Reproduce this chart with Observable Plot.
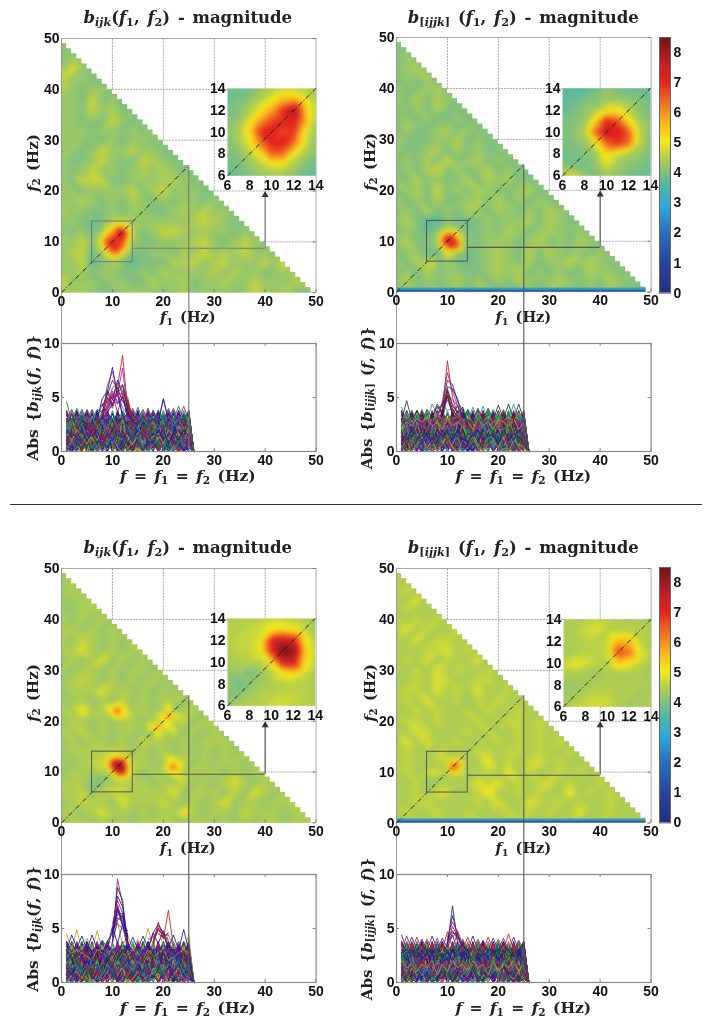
<!DOCTYPE html>
<html><head><meta charset="utf-8">
<style>
html,body{margin:0;padding:0;background:#fff;overflow:hidden}
#page{position:relative;width:710px;height:1024px;overflow:hidden;filter:blur(.35px)}
#page svg{position:absolute;display:block;overflow:visible}
.lbl{position:absolute;white-space:nowrap;font-family:"DejaVu Serif","Liberation Serif",serif;font-weight:bold;color:#222;line-height:1;word-spacing:2px}
.lbl sub{font-size:.68em;line-height:0;vertical-align:-.28em}
.lbl i{font-style:italic}
</style>
<script src="https://cdn.jsdelivr.net/npm/d3@7"></script>
<script src="https://cdn.jsdelivr.net/npm/@observablehq/plot@0.6"></script>
</head><body><div id="page"></div>
<script>
// colour scale
const cbStops=[0,1,2,2.8,3.5,4,4.5,5,5.6,6,7,7.6,8.5];
const cbColors=["#23307f","#27479f","#2b6fbd","#2ba8df","#4fb8a5","#84c17c","#b8d04a","#f5ea1c","#f9b81f","#f58e20","#e4231f","#c11f26","#6e1416"];
const xTicks=[0,10,20,30,40,50], insetTicks=[6,8,10,12,14], absTicks=[0,5,10], cbTicks=[0,1,2,3,4,5,6,7,8];
const gridAt=[10,20,30,40];
// 2 Hz background grids, top row f2=50 to bottom row f2=0; digit d means 3.6+0.2d
const gridTL=["2","23","233","3632","53322","432332","3325232","33253422","332325322","3332332323","33322323322","332353353322","3223532254322","32353323434322","325552233344322","3323333524533322","33432324323233232","433223233223435332","3323322333333454322","32333322235543433233","335333322233345323532","34533322233243534353322","335333322224453453335362","334233223243333434332334","533323322433423343353334","3343223343234233323543422"];
const gridTR=["2","22","232","2342","23242","322342","3242432","22324222","232322322","2422342322","42223342322","322342423223","2324252342322","23245232342322","324232242434222","2342523243223422","32324223424232322","232423243243232432","3423322323233424322","23232333232432343232","342323322333234232432","23323332234324243232322","324232322343242335343232","232423322343423232243322","342323424232432343232432","3232323223232323232323232"];
const gridBL=["3","34","343","4344","33444","434343","4434344","43543434","446434344","3434634343","43443434434","345434343434","3444644343434","43434353434434","447443344343443","3443434434545344","44534344344634343","343443435443434443","3443434343434343434","43444344434453434434","34443444344344443434","44434434434353434643443","445344344446344435364344","345443644454343463443445","443464434344743443544434","344343434454344343434434"];
const gridBR=["4","44","454","4464","45444","445454","4645445","44645544","444556454","4546454463","44546454454","445465445544","4554645464454","45464453545445","445454454544544","4554544454455454","44654445454454544","464644544454545454","4544544555455454454","45454445474545645444","454444544547454454544","44545444656454564544544","445454445744545447454544","445544445464465454544544","454454454445454544644544","4444544454445444544454445"];
// inset grids at 1 Hz, f2=14 down to f2=6, f1=6..14
const insetTL=[[3.9,3.8,3.9,4.2,4.4,4.5,4.6,4.5,4.2],[3.8,3.9,4.1,4.5,4.9,5.6,5.7,5.0,4.4],[3.9,4.0,4.4,5.0,5.8,6.9,7.9,5.6,4.5],[4.0,4.2,4.9,5.9,6.7,7.0,7.2,5.8,4.4],[4.1,4.4,5.2,6.9,7.1,6.7,6.8,5.0,4.2],[4.0,4.3,4.9,6.2,7.0,7.1,6.3,4.8,4.1],[3.9,4.1,4.5,5.1,6.4,6.3,5.0,4.4,4.0],[3.8,3.9,4.2,4.5,4.9,4.8,4.4,4.0,3.8],[3.7,3.9,4.0,4.2,4.3,4.3,4.1,3.8,3.7]];
const insetTR=[[3.7,3.6,3.6,3.8,4.2,3.9,3.8,3.8,3.8],[3.6,3.7,3.9,4.0,4.2,4.2,4.1,4.0,3.8],[3.7,3.9,4.1,4.4,5.0,5.1,4.5,4.1,3.9],[3.9,4.0,4.2,5.4,7.0,6.6,5.2,4.4,4.0],[4.0,4.1,4.5,6.4,7.5,7.2,6.5,4.6,4.0],[3.9,4.0,4.2,4.9,6.4,6.9,6.4,4.6,4.0],[3.8,3.9,4.0,4.3,5.2,4.7,4.4,4.2,3.9],[4.0,3.9,3.9,4.1,4.8,4.3,4.1,4.0,3.8],[4.3,4.8,4.2,4.0,4.3,4.1,3.9,3.8,3.8]];
const insetBL=[[4.4,4.4,4.5,4.5,4.6,4.6,4.5,4.4,4.3],[4.5,4.5,4.6,4.7,5.0,5.2,5.0,4.6,4.4],[4.5,4.6,4.6,4.9,7.0,7.6,7.2,5.2,4.5],[4.4,4.6,4.6,4.9,7.0,8.4,8.2,5.6,4.6],[4.3,4.4,4.5,4.5,5.0,7.2,7.4,5.3,4.5],[4.2,4.2,3.9,4.2,4.5,5.0,5.2,4.7,4.4],[4.2,3.8,4.1,4.3,4.4,4.5,4.5,4.5,4.4],[3.9,4.1,4.3,4.5,4.5,4.6,4.6,4.5,4.4],[4.2,4.4,4.5,4.5,4.7,4.7,4.6,4.5,4.4]];
const insetBR=[[4.4,4.4,4.5,4.6,4.5,4.4,4.4,4.4,4.3],[4.4,4.4,4.7,4.8,4.5,4.5,4.5,4.5,4.4],[4.4,4.4,4.5,4.5,4.6,5.6,5.6,4.6,4.4],[4.3,4.4,4.5,4.5,4.6,6.7,6.3,4.9,4.4],[4.6,4.9,4.8,4.5,4.5,5.4,5.0,4.6,4.4],[4.4,4.4,4.3,4.3,4.4,4.4,4.4,4.4,4.3],[4.2,4.2,4.3,4.4,4.4,4.4,4.4,4.4,4.4],[4.2,4.3,4.5,4.6,4.6,4.4,4.4,4.3,4.4],[4.3,4.6,4.7,4.8,4.7,4.4,4.3,4.4,4.4]];
// extra off-diagonal peaks of the lower-left map: [f1,f2,value]
const spotsBL=[[11,22,6.9],[10,22,5.3],[12,22,5.2],[11,23,5.4],[11,21,5.4],[22,11,6.8],[21,11,5.4],[23,11,5.3],[22,12,5.3],[22,10,5.2],[19,19,6.1],[18,19,5.3],[20,19,4.9],[19,18,5.2],[21,21,6.3],[20,21,5.2],[22,21,5.0],[21,22,5.3],[21,20,5.0]];
const bandLevels=[{y1:0,y2:.45,v:1.5},{y1:.45,y2:.8,v:2.6}];
// diagonal traces, f=1..25 at 0.34 per digit
const massRows=["9193819281937291829371928","1829172918391729183927193","7261827381726381927361827","2736172819372618273918262","5847362918475639284756392","3948572639485726394857263","0612740516273041625374061","6051627304162530417263051","4152637485960415263748596","8372615049382716059483726","2948103756291840375629184","7150394826715039482671503","1306284759130628475913062","6927183054692718305469271","3581749260358174926035817","8246031975824603197582460","0739518264073951826407395","5164972038516497203851649","9482063715948206371594820","2073849516207384951620738","4916205837491620583749162","1728394051728394051728394","6302917485630291748563029","3175804926317580492631758","0425163728041526372804152","2610473592261047359226104","5039182746503918274650391","7384620195738462019573846","1593708264159370826415937","4862015379486201537948620","0214365870213546870214365","3021546780312456078130245","1032547698103254769810325","2143056789214305678921430","0132435465012345432102345","1203142536405162738405162",
"2907415368192047538160927","8140926357701948263580419","3659017428895103276641098","7018364295013872946510837","1496280735962041873952604","5823194076328910574186392","0374851926740528391607483","9260437185209364718025946","4718092653187206945381027","6593710284965018327490516","2085963147830296514703869","7431208956142879305612784","3926570418697213058947120","1860347295206749381526073","8097125463918450672394815","5241869037452168093705246","0619283754081936275418390","9375046182703591426083571","6182739405617284950371628","3407951628340895162794013","1754062893517026948315702","8529316047962351480726195","4063198275039714682951340","7291504836125083947160258","2816473950786142059384716","0948357162493607215840937","5370829416058293746019582","9106742385371620895427063","6428051739204857316092841","3795126840619340782516097","1582960473825716093248615","8034617592047381529660734","4267380915763029418570926","7951042638190572683401759","2309518746402186957023148","0681274593816493027158360","5127893060527948136405972","9843106257340615829713046","3560729184962037514860293","6718340925187452063909518",
"1203412302143021340213042","0312041320431203124302134","2130423104213041230412301","1042301243012430213402130","3021403214032140321043201","0231402130240132041302413","2410320143021340120342013","1302413024103241023140321","4253645263546253645263542","5364253645364256345264536","3546352645362546354625364","6453546253645364526354635","8979689786978968798697896","7898769879687986978967898","9687968978697896879689786","6879897869789869786987968"];
// the teeth along the top of the traces, f=1..25: digit d means 1.8+0.22d
const toothRows=["9282938291829382918292839","2819283928192839281928392","8191829281938291829281918","1928392819283918293829182","9383928392839283928392838","3839382938392938392839283","7262827282628272826282728","2727282628272827262827262","8393829382938392839382938","3928392938293829382938293","7181718171817181718171817","1817181718171817181718171","8070807080708070807080708","0807080708070807080708070","9454945494549454945494549","4949454945494549454945494","8565856585658565856585658","5858565856585658565856585"];
const envTL=[[4.6,2.8,4.0,2.9,3.9,2.9,3.9,3.6,5.5,4.2,5.6,3.2,4.1,2.9,4.1,2.9,4.0,2.9,3.8,2.9,4.0,2.9,4.2,2.9,3.8],[2.9,3.9,2.9,3.9,2.9,3.9,3.0,4.4,3.4,5.4,3.6,5.2,3.0,4.0,2.9,3.9,2.9,3.8,2.9,4.8,3.0,4.0,2.9,4.2,2.9]];
const envTR=[[4.1,2.9,3.8,2.9,3.9,2.9,4.4,3.3,4.3,3.8,4.0,3.0,4.1,2.9,4.1,2.9,4.2,2.9,3.9,2.9,3.9,2.9,4.4,2.9,3.4],[2.9,4.7,2.9,3.8,2.9,3.9,3.0,4.2,3.4,5.6,3.3,4.3,3.0,3.9,2.9,4.0,2.9,4.0,2.9,4.3,3.0,4.4,2.9,4.4,2.9]];
const envBL=[[4.5,3.0,4.9,3.0,4.1,3.0,4.8,3.0,3.9,3.6,5.6,3.4,4.4,3.0,4.0,3.2,5.0,3.4,5.0,3.4,4.4,3.2,3.8,3.0,4.4],[3.0,4.4,3.2,4.3,3.0,4.4,3.1,3.9,3.2,5.2,3.6,5.4,3.0,4.2,3.1,4.3,3.2,4.6,3.6,4.8,3.2,4.4,3.0,4.9,3.0]];
const envBR=[[4.4,3.0,4.2,3.0,4.0,3.0,4.3,3.0,4.1,3.2,4.4,3.0,4.0,3.0,4.3,3.0,3.9,3.0,4.1,3.0,4.1,3.0,4.2,3.0,3.8],[3.0,4.3,3.0,4.2,3.0,4.0,3.0,4.1,3.0,4.7,3.2,4.6,3.0,4.2,3.0,4.0,3.0,4.2,3.0,4.0,3.0,4.5,3.0,3.9,3.0]];
// peaks: first entry is the starting f
const peaksTL=[[8,3.6,5.5,7.8,5.2,3.4,2.5],[9,4.6,5.0,6.0,8.9,4.0,2.0],[8,3.2,6.1,7.4,5.4,7.7,3.6,2.2],[8,4.2,5.2,6.6,5.8,6.2,4.6,3.0],[7,3.0,4.9,5.6,4.8,6.6,5.2,3.4],[8,3.0,4.4,5.9,6.3,5.6,5.0,2.8],[8,2.5,4.2,5.2,4.5,5.6,4.4,2.5],[8,3.0,5.0,4.2,5.9,4.6,4.2,3.0],[19,2.6,4.9,2.8],[8,3.5,4.8,5.0,5.2,5.4,4.4,3.2],[9,4.0,5.6,4.6,5.0,4.2,3.6],[9,3.6,4.4,5.4,6.1,3.8,2.6],[8,3.8,3.9,4.8,4.4,5.0,3.4,2.8],[9,5.0,4.4,5.6,4.9,4.8,3.0],[8,4.4,4.6,4.0,5.5,4.0,3.6]];
const peaksTR=[[9,3.8,8.4,5.0,3.4,2.4],[8,3.0,4.6,7.3,5.6,4.2,3.0],[9,4.2,6.6,6.2,4.6,3.8,2.2],[9,3.6,6.0,5.8,4.9,3.0],[8,3.4,4.4,5.6,4.4,3.6],[9,2.8,5.2,4.8,4.2,2.8],[9,3.2,5.8,4.2,3.6,4.1,2.5],[8,3.9,4.4,5.0,4.0,3.2],[9,4.6,5.4,3.8,3.2],[8,3.6,3.9,4.8,3.6,3.0],[7,3.2,4.4,3.6,5.2,3.4,3.0]];
const peaksBL=[[10,3.6,9.6,7.2,3.8],[10,4.4,8.8,7.6,3.2],[10,4.8,8.0,7.0,4.0],[10,5.4,7.6,6.4,3.6],[9,3.0,5.0,7.2,5.6,3.4],[10,5.0,6.6,6.0,4.4],[10,4.2,7.0,5.4,3.8],[18,3.4,5.6,4.0,6.7,3.2],[18,4.0,5.2,4.6,3.8],[17,3.0,4.6,5.4,4.6,3.0],[18,3.8,4.9,4.4,4.4],[10,4.5,6.0,5.6,4.4],[10,5.2,5.4,5.0,4.0],[9,3.8,4.6,6.3,6.4,3.8],[10,4.6,6.8,5.2,4.8],[18,3.6,5.0,4.4,4.0],[17,4.0,4.2,5.0,4.2,3.6],[19,4.5,4.2,4.6],[10,3.8,5.8,6.2,4.2]];
const peaksBR=[[10,3.4,7.1,3.6],[10,3.8,6.2,4.4,3.0],[10,4.2,5.6,4.6],[10,3.6,5.2,4.2,3.0],[10,4.0,4.8,4.0],[10,3.6,4.6,4.4,3.4],[10,3.9,4.2,4.8,3.5]];
const lineColors=["#1414b8","#0a7d2a","#cc1a1a","#12a0a0","#a414a4","#a8a818","#2a2a2a","#3c1aa0"];

// layout
const panels=[
 {grid:gridTL,inset:insetTL,env:envTL,peaks:peaksTL,spots:[],band:false,x0:60.5,top:37.5,h:254.2,ltop:342.7,lh:108,ix0:226.8,iw:88.3,itop:87.7,ih:87.3,hy:8.74,dark:"#777",rot:0,top2:18,label:0},
 {grid:gridTR,inset:insetTR,env:envTR,peaks:peaksTR,spots:[],band:true,x0:396,top:37,h:254.7,ltop:342.7,lh:108,ix0:562.3,iw:88,itop:87.7,ih:87.3,hy:8.8,dark:"#555",rot:2,top2:18,label:1,cb:[36.7,255.6]},
 {grid:gridBL,inset:insetBL,env:envBL,peaks:peaksBL,spots:spotsBL,band:false,x0:60.5,top:567.7,h:254.4,ltop:874.3,lh:108,ix0:227.3,iw:87.7,itop:618.3,ih:87.4,hy:9.57,dark:"#555",rot:4,top2:548,label:0},
 {grid:gridBR,inset:insetBR,env:envBR,peaks:peaksBR,spots:[],band:true,x0:396,top:567.7,h:254.6,ltop:874.3,lh:108,ix0:563.3,iw:87.5,itop:619.3,ih:87.4,hy:9.4,dark:"#555",rot:6,top2:548,label:1,cb:[567.3,255.4]}
];
const PW=254.6, page=document.getElementById("page");
const colorOpt={type:"linear",domain:cbStops,range:cbColors};
const tickStyle={background:"transparent",fontFamily:'"Liberation Sans",Arial,sans-serif',fontSize:"14px",fontWeight:"bold",color:"#111",overflow:"visible"};
function put(svg,l,t){svg.style.left=l+"px";svg.style.top=t+"px";page.appendChild(svg);}
function label(html,cx,cy,rot,size){const d=document.createElement("div");d.className="lbl";d.innerHTML=html;d.style.left=cx+"px";d.style.top=cy+"px";d.style.fontSize=(size||13.5)+"px";d.style.transform="translate(-50%,-50%)"+(rot?" rotate(-90deg)":"");page.appendChild(d);}
function axes(ticksX,ticksY,padX,padY){return [Plot.axisX({ticks:ticksX,tickSize:0,tickPadding:padX,label:null,tickFormat:d=>String(d)}),Plot.axisY({ticks:ticksY,tickSize:0,tickPadding:padY,label:null,tickFormat:d=>String(d)})];}

function points(p){
  const m=new Map();
  p.grid.forEach((row,i)=>{const f2=50-2*i;for(let k=0;k<=i;k++){const f1=2*k;if(f1>=6&&f1<=14&&f2>=6&&f2<=14)continue;const c=row[Math.min(k,row.length-1)];m.set(f1+","+f2,{f1,f2,v:3.6+.2*(+c)});}});
  p.inset.forEach((row,i)=>row.forEach((v,k)=>m.set((6+k)+","+(14-i),{f1:6+k,f2:14-i,v})));
  p.spots.forEach(([f1,f2,v])=>m.set(f1+","+f2,{f1,f2,v}));
  return [...m.values()];
}
function insetPoints(p){return p.inset.flatMap((row,i)=>row.map((v,k)=>({f1:6+k,f2:14-i,v})));}
function linesOf(p){
  const out=[];let id=0;
  const n=lineColors.length;
  toothRows.forEach((r,i)=>{const s=id++;const c=lineColors[(i*3+p.rot)%n];[...r].forEach((ch,k)=>out.push({s,f:k+1,v:1.8+.22*(+ch),c}));out.push({s,f:26,v:0,c});});
  massRows.forEach((r,i)=>{const s=id++;const c=lineColors[(i+p.rot)%n];[...r].forEach((ch,k)=>out.push({s,f:k+1,v:+ch*.34,c}));out.push({s,f:26,v:0,c});});
  p.env.forEach((r,i)=>{const s=id++;const c=lineColors[(i*3+1+p.rot)%n];r.forEach((v,k)=>out.push({s,f:k+1,v,c}));out.push({s,f:26,v:0,c});});
  p.peaks.forEach((r,i)=>{const s=id++;const c=lineColors[(i*2+p.rot)%n];r.slice(1).forEach((v,k)=>out.push({s,f:r[0]+k,v,c}));});
  return out;
}

panels.forEach(p=>{
  // lower line plot
  const lm={l:30,r:20,t:8,b:22};
  put(Plot.plot({width:PW+lm.l+lm.r,height:p.lh+lm.t+lm.b,marginLeft:lm.l,marginRight:lm.r,marginTop:lm.t,marginBottom:lm.b,
    x:{domain:[0,50]},y:{domain:[0,10]},style:tickStyle,
    marks:[
      Plot.line(linesOf(p),{x:"f",y:"v",z:"s",stroke:"c",strokeWidth:.85}),
      Plot.frame({stroke:"#888",strokeWidth:1.2}),
      Plot.ruleX(xTicks,{y1:0,y2:.28,stroke:"#888"}),Plot.ruleX(xTicks,{y1:9.72,y2:10,stroke:"#888"}),
      Plot.ruleY(absTicks,{x1:0,x2:.6,stroke:"#888"}),Plot.ruleY(absTicks,{x1:49.4,x2:50,stroke:"#888"}),
      ...axes(xTicks,absTicks,4,2)
    ]}),p.x0-lm.l,p.ltop-lm.t);

  // main triangle map with connectors running down to the lower plot
  const mm={l:30,r:20,t:8,b:p.ltop+p.lh-(p.top+p.h)+2};
  const k=p.h/50, down=-(p.ltop+p.lh-(p.top+p.h))/k, downTop=-(p.ltop-(p.top+p.h))/k;
  const stair=d3.range(0,50);
  put(Plot.plot({width:PW+mm.l+mm.r,height:p.h+mm.t+mm.b,marginLeft:mm.l,marginRight:mm.r,marginTop:mm.t,marginBottom:mm.b,
    x:{domain:[0,50]},y:{domain:[0,50]},color:colorOpt,style:tickStyle,
    marks:[
      Plot.raster(points(p),{x:"f1",y:"f2",fill:"v",interpolate:"barycentric",pixelSize:1,blur:1.5}),
      Plot.rect(stair,{x1:d=>d,x2:d=>d+1.2,y1:d=>49-d,y2:50,fill:"white"}),
      p.band?Plot.rect(bandLevels,{x1:0,x2:49,y1:"y1",y2:"y2",fill:"v"}):null,
      Plot.ruleX(gridAt,{y1:d=>50-d,y2:50,stroke:"#aaa",strokeDasharray:"2 1"}),
      Plot.ruleY(gridAt,{x1:d=>50-d,x2:50,stroke:"#aaa",strokeDasharray:"2 1"}),
      Plot.ruleY([50],{stroke:"#aaa"}),Plot.ruleX([50],{stroke:"#aaa"}),
      Plot.ruleX(xTicks,{y1:0,y2:.6,stroke:"#777"}),Plot.ruleY(xTicks,{x1:49.4,x2:50,stroke:"#777"}),
      Plot.ruleX([0],{y1:downTop,y2:50,stroke:"#999"}),
      Plot.link([0],{x1:0,y1:0,x2:25,y2:25,stroke:"#111",strokeDasharray:"5 2 1 2",strokeWidth:.9}),
      Plot.rect([0],{x1:6,x2:14,y1:6,y2:14,stroke:p.dark,fill:"none"}),
      Plot.ruleX([25],{y1:down,y2:25,stroke:p.dark,strokeWidth:1.1}),
      Plot.ruleY([p.hy],{x1:14,x2:40,stroke:p.dark,strokeWidth:1.1}),
      Plot.ruleX([40],{y1:p.hy,y2:19,stroke:p.dark,strokeWidth:1.1}),
      Plot.dot([0],{x:40,y:19.2,symbol:"triangle",r:2.6,fill:"#333"}),
      ...axes(xTicks,xTicks,3,2)
    ].filter(Boolean)}),p.x0-mm.l,p.top-mm.t);

  // zoomed inset
  const im={l:26,r:16,t:8,b:22};
  put(Plot.plot({width:p.iw+im.l+im.r,height:p.ih+im.t+im.b,marginLeft:im.l,marginRight:im.r,marginTop:im.t,marginBottom:im.b,
    x:{domain:[6,14]},y:{domain:[6,14]},color:colorOpt,style:tickStyle,
    marks:[
      Plot.raster(insetPoints(p),{x:"f1",y:"f2",fill:"v",interpolate:"barycentric",pixelSize:1,blur:1.5}),
      Plot.link([0],{x1:6,y1:6,x2:14,y2:14,stroke:"#111",strokeDasharray:"5 2 1 2",strokeWidth:.9}),
      ...axes(insetTicks,insetTicks,4,2)
    ]}),p.ix0-im.l,p.itop-im.t);

  // colour bar
  if(p.cb){
    const cm={l:4,r:22,t:6,b:6};
    put(Plot.plot({width:11+cm.l+cm.r,height:p.cb[1]+cm.t+cm.b,marginLeft:cm.l,marginRight:cm.r,marginTop:cm.t,marginBottom:cm.b,
      x:{domain:[0,1],axis:null},y:{domain:[0,8.5],axis:null},color:colorOpt,style:tickStyle,
      marks:[
        Plot.rect(d3.range(0,8.5,.05),{x1:0,x2:1,y1:d=>d,y2:d=>Math.min(8.5,d+.12),fill:d=>d}),
        Plot.frame({stroke:"#666"}),
        Plot.axisY({anchor:"right",ticks:cbTicks,tickSize:0,tickPadding:3,label:null,tickFormat:d=>String(d)})
      ]}),659-cm.l,p.cb[0]-cm.t);
  }

  // text
  const cx=p.x0+PW/2, f2x=p.label?370:33, absx=p.label?367:33;
  const b=p.label?'<i>b</i><sub>[<i>ijjk</i>]</sub> ':'<i>b<sub>ijk</sub></i>';
  label(b+'(<i>f</i><sub>1</sub>, <i>f</i><sub>2</sub>) - magnitude',cx,p.top2,false,16.5);
  label('<i>f</i><sub>2</sub> (Hz)',f2x,p.top+p.h/2-2,true,15);
  label('<i>f</i><sub>1</sub> (Hz)',cx,p.top+p.h+25.5,false,14.5);
  label('Abs {'+b+'(<i>f</i>, <i>f</i>)}',absx,p.ltop+p.lh/2+1,true,p.label?15:15.5);
  label('<i>f</i> = <i>f</i><sub>1</sub> = <i>f</i><sub>2</sub> (Hz)',cx,p.ltop+p.lh+25.5,false,15.5);
});
// separator
const sep=document.createElement("div");
sep.style.cssText="position:absolute;left:10px;top:503.5px;width:692px;height:1.4px;background:#333";
page.appendChild(sep);
</script></body></html>
